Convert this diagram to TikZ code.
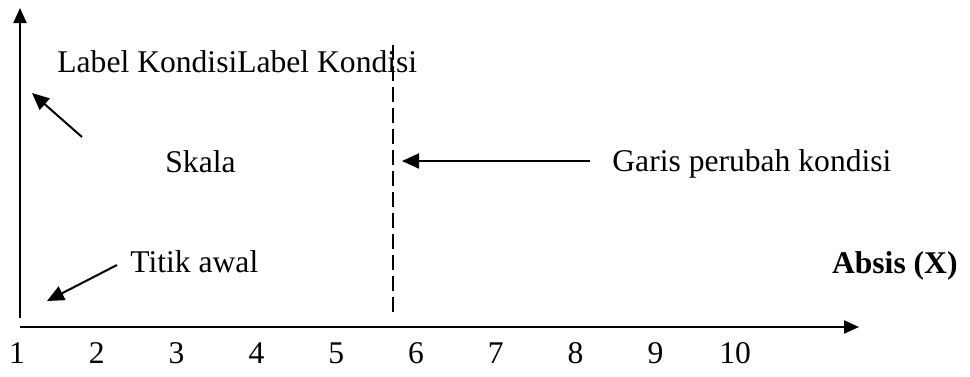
\documentclass[tikz,border=0pt]{standalone}
\usepackage{fontspec}
\setmainfont{Liberation Serif}
\usepackage{tikz}
\usetikzlibrary{arrows.meta}

\begin{document}
\begin{tikzpicture}[x=0.5pt,y=-0.5pt,font=\fontsize{15.8}{19}\selectfont,
  lbl/.style={inner sep=0pt,anchor=base west},
  tick/.style={inner sep=0pt,anchor=base},
  ax/.style={line width=1pt,-{Triangle[length=7.5pt,width=6.5pt]}},
  ar/.style={line width=1pt,-{Triangle[length=8.5pt,width=7.5pt]}}]
\useasboundingbox (0,0) rectangle (970,376);
% --- axes ---
\coordinate (yb) at (20,318);
\coordinate (yt) at (20,8);
\coordinate (xb) at (20,327);
\coordinate (xt) at (859,327);
\draw[ax] (yb) -- (yt);
\draw[ax] (xb) -- (xt);
\foreach \n in {1,...,10}
  \node[tick] (t\n) at ({17+79.8*(\n-1)},363) {\n};
% --- labels ---
\node[lbl] (lk) at (57,72) {Label KondisiLabel Kondisi};
\node[lbl] (sk) at (165,172) {Skala};
\node[lbl] (gp) at (612,171) {Garis perubah kondisi};
\node[lbl] (ta) at (130,272) {Titik awal};
\node[inner sep=0pt,anchor=base east,font=\fontsize{15.8}{19}\selectfont\bfseries] (ab) at (958,273) {Absis (X)};
% --- condition change line ---
\coordinate (dt) at (393,45);
\coordinate (db) at (393,313);
\draw[line width=0.6pt,dash pattern=on 7.5pt off 3pt] (dt) -- (db);
% --- pointers ---
\coordinate (gs) at (590,161);
\coordinate (ge) at (402,161);
\draw[ar] (gs) -- (ge);
\coordinate (ls) at (82,137);
\coordinate (le) at (32,93);
\draw[ar] (ls) -- (le);
\coordinate (ts) at (117,265);
\coordinate (te) at (47,301);
\draw[ar] (ts) -- (te);
\end{tikzpicture}
\end{document}
